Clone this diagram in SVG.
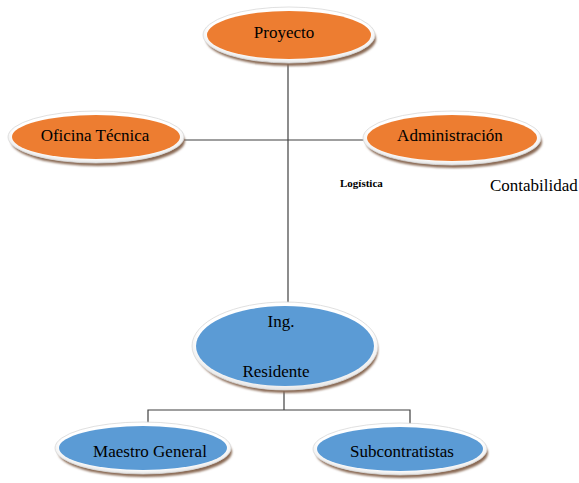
<svg xmlns="http://www.w3.org/2000/svg" width="579" height="483" viewBox="0 0 579 483">
  <defs>
    <filter id="soft" x="-10%" y="-20%" width="120%" height="140%">
      <feGaussianBlur stdDeviation="1.2"/>
    </filter>
    <radialGradient id="rim" cx="50%" cy="45%" r="55%">
      <stop offset="85%" stop-color="#ffffff"/>
      <stop offset="100%" stop-color="#e2e2e2"/>
    </radialGradient>
  </defs>
  <style>
    .shadow { fill: #8a6a55; filter: url(#soft); }
    .rim { fill: url(#rim); stroke: #d8d8d8; stroke-width: 0.8; }
    .orange { fill: #ED7D31; }
    .blue { fill: #5B9BD5; }
    .label { font-family: "Liberation Serif", "Times New Roman", serif; font-size: 17px; fill: #000; text-anchor: middle; }
    .note { font-family: "Liberation Serif", "Times New Roman", serif; fill: #000; }
    .conn { stroke: #404040; stroke-width: 1.2; fill: none; }
  </style>

  <!-- connectors -->
  <g id="connectors">
    <line class="conn" x1="288" y1="64" x2="288" y2="305"/>
    <line class="conn" x1="184" y1="140" x2="364" y2="140"/>
    <line class="conn" x1="284" y1="391" x2="284" y2="410"/>
    <polyline class="conn" points="148,425 148,410 410,410 410,425"/>
  </g>

  <!-- top level -->
  <g id="proyecto">
    <ellipse class="shadow" cx="291" cy="39" rx="85" ry="27"/>
    <ellipse class="rim" cx="289" cy="35" rx="86" ry="28"/>
    <ellipse class="orange" cx="289" cy="35" rx="82" ry="24"/>
    <text class="label" x="284" y="38">Proyecto</text>
  </g>

  <g id="oficina-tecnica">
    <ellipse class="shadow" cx="98" cy="141" rx="87" ry="25"/>
    <ellipse class="rim" cx="96" cy="137" rx="88" ry="26"/>
    <ellipse class="orange" cx="96" cy="137" rx="84" ry="22"/>
    <text class="label" x="95" y="141">Oficina Técnica</text>
  </g>

  <g id="administracion">
    <ellipse class="shadow" cx="454" cy="142" rx="88" ry="26"/>
    <ellipse class="rim" cx="452" cy="138" rx="89" ry="27"/>
    <ellipse class="orange" cx="452" cy="138" rx="85" ry="23"/>
    <text class="label" x="450" y="141">Administración</text>
  </g>

  <g id="logistica">
    <text class="note" x="340" y="187" font-size="11" font-weight="bold">Logística</text>
  </g>

  <g id="contabilidad">
    <text class="note" x="490" y="191" font-size="17">Contabilidad</text>
  </g>

  <!-- site level -->
  <g id="ing-residente">
    <ellipse class="shadow" cx="287" cy="350" rx="91" ry="43"/>
    <ellipse class="rim" cx="285" cy="346" rx="93" ry="44"/>
    <ellipse class="blue" cx="285" cy="346" rx="89" ry="40"/>
    <text class="label" x="281" y="327">Ing.</text>
    <text class="label" x="276" y="377">Residente</text>
  </g>

  <g id="maestro-general">
    <ellipse class="shadow" cx="145" cy="452" rx="87" ry="25"/>
    <ellipse class="rim" cx="143" cy="448" rx="88" ry="26"/>
    <ellipse class="blue" cx="143" cy="448" rx="84" ry="22"/>
    <text class="label" x="150" y="457">Maestro General</text>
  </g>

  <g id="subcontratistas">
    <ellipse class="shadow" cx="402" cy="453" rx="86" ry="25"/>
    <ellipse class="rim" cx="400" cy="449" rx="87" ry="26"/>
    <ellipse class="blue" cx="400" cy="449" rx="83" ry="22"/>
    <text class="label" x="402" y="457">Subcontratistas</text>
  </g>
</svg>
